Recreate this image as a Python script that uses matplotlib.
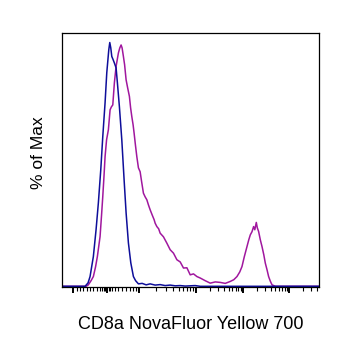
import numpy as np
import matplotlib
matplotlib.use("Agg")
import matplotlib.pyplot as plt

plt.rcParams['font.family'] = ['Liberation Sans', 'DejaVu Sans']

# histogram values, x in display channels (0-1024), y in % of max
blue_ch = [0, 70.8, 90.8, 102.8, 110.8, 124, 134.8, 144, 153.6, 161.6, 170.8, 177.6,
           185.6, 189.6, 193.6, 197.6, 202.8, 208, 214.8, 220, 228, 237.6, 246.8,
           254.8, 264, 273.6, 284, 292.8, 304, 318.8, 334.8, 350.8, 370.8, 390.8,
           410.8, 430.8, 450.8, 470.8, 490.8, 510.8, 530.8, 550.8, 1024]
blue_pct = [0, 0, 0, 1.4, 4.0, 12.2, 23.2, 34.2, 47.8, 61.4, 75.3, 87.6,
            97.0, 100, 97.8, 94.3, 93.0, 91.6, 89.6, 83.5, 73.7, 60.1, 43.7,
            30.1, 17.8, 9.6, 4.0, 2.3, 1.0, 1.2, 0.6, 1.0, 0.5, 0.7,
            0.3, 0.5, 0.2, 0.3, 0.1, 0.2, 0.3, 0, 0]

magenta_ch = [0, 94.8, 104, 114.8, 124, 132.8, 140, 150.8, 156.8, 161.6, 166.8, 170.8,
              176.8, 184, 190.8, 196, 201.6, 208, 214.8, 224, 229.6, 234.8, 238.8,
              244, 248.8, 254.8, 260.8, 268, 272.8, 277.6, 282.8, 286.8, 292, 297.6,
              304, 310.8, 316.8, 324, 330.8, 337.6, 344, 350.8, 358.8, 366.8, 370.8,
              377.6, 384.8, 390.8, 404, 417.6, 430.8, 444, 457.6, 470.8, 484, 497.6,
              510.8, 524, 537.6, 550.8, 570.8, 590.8, 610.8, 630.8, 650.8, 670.8,
              684.8, 697.6, 708.8, 717.6, 726.8, 737.6, 744.8, 750.8, 757.6, 764,
              768.8, 774.8, 778.8, 784, 790.8, 797.6, 804.8, 810.8, 817.6, 824,
              830.8, 837.6, 850.8, 1024]
magenta_pct = [0, 0, 0.6, 2.3, 4.0, 8.0, 12.2, 20.4, 29.3, 36.8, 45.7, 53.2,
               60.1, 64.2, 72.4, 73.6, 74.4, 83.5, 90.2, 95.7, 97.8, 99.0, 97.8,
               94.3, 90.9, 84.7, 81.5, 77.9, 73.2, 69.6, 66.2, 62.8, 58.0, 53.2,
               48.6, 47.0, 42.9, 38.2, 36.7, 35.5, 33.4, 31.4, 29.3, 27.3, 25.9,
               24.5, 23.6, 21.8, 20.3, 17.7, 15.0, 13.6, 10.9, 10.0, 7.5, 7.6,
               4.7, 5.1, 4.0, 3.4, 2.3, 1.3, 1.8, 1.6, 1.2, 2.0,
               2.7, 4.0, 5.9, 8.1, 12.1, 16.3, 19.1, 21.1, 22.4, 24.5,
               23.2, 26.2, 24.0, 22.5, 19.1, 16.3, 12.9, 9.5, 6.8, 4.0,
               2.1, 0.6, 0, 0]

# biexponential axis decades (channel positions)
major_ticks = [44, 178.8, 308, 532, 721.6, 905.6]
low_minor = [57.3, 70.6, 83.9, 97.2, 110.5, 123.8, 137.1, 150.4,
             158.8, 164.8, 170.8, 184.8, 190.8, 196.8,
             210.8, 224, 237.6, 254.8, 270.8, 284, 294.8, 301.6]

minor_ticks = list(low_minor)
edges = major_ticks[2:] + [905.6 + 184]
for a, b in zip(edges[:-1], edges[1:]):
    for k in range(2, 10):
        v = a + (b - a) * np.log10(k)
        if v < 1024:
            minor_ticks.append(v)

fig = plt.figure(figsize=(3.39, 3.45), dpi=100)
ax = fig.add_axes([0.1838, 0.168, 0.7563, 0.737])

ax.plot(magenta_ch, magenta_pct, color='#a0179e', lw=1.1)
ax.plot(blue_ch, blue_pct, color='#0e0e9a', lw=1.1)

ax.set_xlim(0, 1024)
ax.set_ylim(-0.3, 104)

ax.set_xticks(major_ticks)
ax.set_xticks(minor_ticks, minor=True)
ax.set_xticklabels([])
ax.set_yticks([])
ax.tick_params(axis='x', which='major', direction='out', length=4.5, width=1.4, color='black')
ax.tick_params(axis='x', which='minor', direction='out', length=2.6, width=0.8, color='black')

for s in ax.spines.values():
    s.set_linewidth(0.9)
    s.set_color('black')

ax.set_xlabel('CD8a NovaFluor Yellow 700', fontsize=13, labelpad=13)
ax.set_ylabel('% of Max', fontsize=12.5)
ax.yaxis.set_label_coords(-0.062, 0.527)

plt.savefig('out.png', dpi=100)
